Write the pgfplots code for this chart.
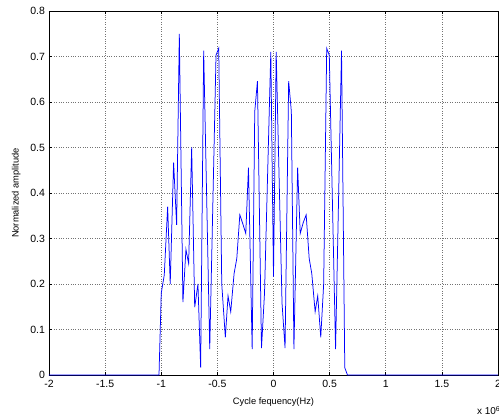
\documentclass[border=0pt]{standalone}
\usepackage{pgfplots}
\pgfplotsset{compat=1.18}
\usepackage{fontspec}
\setmainfont{Liberation Sans}
\begin{document}
\begin{tikzpicture}
\begin{axis}[
  at={(0pt,0pt)}, anchor=south west,
  scale only axis, width=449pt, height=364pt,
  xmin=-2, xmax=2, ymin=0, ymax=0.8,
  xtick={-2,-1.5,-1,-0.5,0,0.5,1,1.5,2},
  xticklabels={-2,-1.5,-1,-0.5,0,0.5,1,1.5,2},
  ytick={0,0.1,0.2,0.3,0.4,0.5,0.6,0.7,0.8},
  yticklabels={0,0.1,0.2,0.3,0.4,0.5,0.6,0.7,0.8},
  tick align=inside, tick pos=both,
  major tick length=3pt,
  grid=major,
  major grid style={black!55, dotted, line width=0.5pt},
  axis line style={black, line width=0.6pt},
  tick style={black, line width=0.5pt},
  ticklabel style={font=\fontsize{10.5}{12}\selectfont},
  xlabel={Cycle fequency(Hz)},
  ylabel={Normalized amplitude},
  label style={font=\fontsize{9.3}{11}\selectfont},
  xlabel style={at={(axis description cs:0.5,0)}, anchor=north, yshift=-19pt},
  ylabel style={at={(axis description cs:0,0.5)}, anchor=south, rotate=0, yshift=25pt},
  xticklabel style={yshift=-2pt},
  yticklabel style={xshift=-0.5pt},
  clip=false,
]
\addplot[color={rgb,255:red,0;green,0;blue,255}, line width=0.75pt] coordinates {
(-2,0) (-1.02,0) (-1.0,0.18) (-0.973,0.22) (-0.943,0.37) (-0.92,0.20)
(-0.89,0.467) (-0.863,0.33) (-0.839,0.75) (-0.807,0.16) (-0.78,0.276)
(-0.756,0.245) (-0.729,0.50) (-0.702,0.149) (-0.673,0.20) (-0.649,0.016)
(-0.622,0.713) (-0.568,0.057) (-0.512,0.703) (-0.488,0.718) (-0.461,0.20)
(-0.429,0.083) (-0.405,0.174) (-0.381,0.139) (-0.351,0.223) (-0.327,0.256)
(-0.30,0.352) (-0.273,0.332) (-0.247,0.311) (-0.223,0.456) (-0.19,0.057)
(-0.167,0.579) (-0.143,0.646) (-0.107,0.059) (-0.08,0.18) (-0.024,0.71)
(0,0.216) (0.024,0.71) (0.076,0.158) (0.103,0.059) (0.135,0.646)
(0.159,0.579) (0.182,0.057) (0.215,0.456) (0.238,0.311) (0.265,0.335)
(0.291,0.352) (0.318,0.256) (0.341,0.223) (0.371,0.139) (0.394,0.174)
(0.421,0.083) (0.447,0.20) (0.474,0.718) (0.497,0.703) (0.553,0.057)
(0.606,0.713) (0.635,0.016) (0.659,0) (2,0)
};
\node[anchor=north west, font=\fontsize{10}{12}\selectfont, inner sep=0pt] at (axis description cs:0.953,-0.085) {x 10$^{\mathrm{6}}$};
\end{axis}
\pgfresetboundingbox
\path[use as bounding box] (-49pt,-45pt) rectangle (450pt,375pt);
\end{tikzpicture}
\end{document}
